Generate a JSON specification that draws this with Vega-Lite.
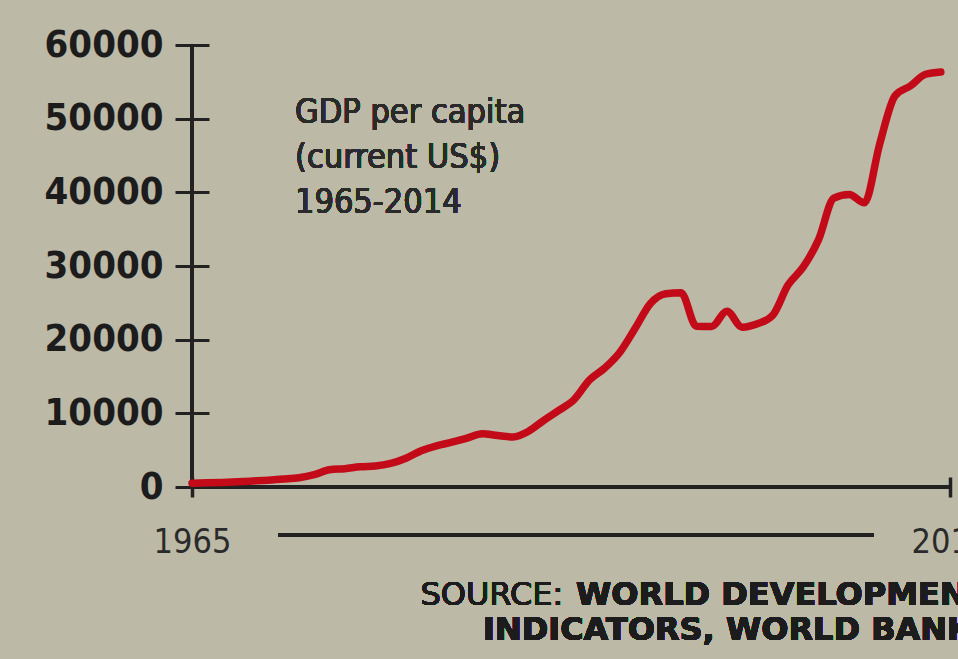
{
  "$schema": "https://vega.github.io/schema/vega-lite/v6.json",
  "autosize": {"type": "none"},
  "width": 758,
  "height": 442,
  "padding": {"left": 192, "top": 45, "right": 8, "bottom": 172},
  "background": "#bcb9a7",
  "config": {"view": {"stroke": null}},
  "data": {"values": [
    {"year": 1965, "gdp": 516}, {"year": 1966, "gdp": 566}, {"year": 1967, "gdp": 626},
    {"year": 1968, "gdp": 708}, {"year": 1969, "gdp": 813}, {"year": 1970, "gdp": 925},
    {"year": 1971, "gdp": 1071}, {"year": 1972, "gdp": 1264}, {"year": 1973, "gdp": 1685},
    {"year": 1974, "gdp": 2341}, {"year": 1975, "gdp": 2490}, {"year": 1976, "gdp": 2746},
    {"year": 1977, "gdp": 2846}, {"year": 1978, "gdp": 3194}, {"year": 1979, "gdp": 3900},
    {"year": 1980, "gdp": 4928}, {"year": 1981, "gdp": 5596}, {"year": 1982, "gdp": 6078},
    {"year": 1983, "gdp": 6633}, {"year": 1984, "gdp": 7234}, {"year": 1985, "gdp": 6987},
    {"year": 1986, "gdp": 6800}, {"year": 1987, "gdp": 7539}, {"year": 1988, "gdp": 9017},
    {"year": 1989, "gdp": 10394}, {"year": 1990, "gdp": 11862}, {"year": 1991, "gdp": 14502},
    {"year": 1992, "gdp": 16135}, {"year": 1993, "gdp": 18302}, {"year": 1994, "gdp": 21553},
    {"year": 1995, "gdp": 24915}, {"year": 1996, "gdp": 26233}, {"year": 1997, "gdp": 26376},
    {"year": 1998, "gdp": 21829}, {"year": 1999, "gdp": 21796}, {"year": 2000, "gdp": 23852},
    {"year": 2001, "gdp": 21700}, {"year": 2002, "gdp": 22160}, {"year": 2003, "gdp": 23320},
    {"year": 2004, "gdp": 27405}, {"year": 2005, "gdp": 29870}, {"year": 2006, "gdp": 33580},
    {"year": 2007, "gdp": 39224}, {"year": 2008, "gdp": 39722}, {"year": 2009, "gdp": 38577},
    {"year": 2010, "gdp": 46569}, {"year": 2011, "gdp": 53094}, {"year": 2012, "gdp": 54431},
    {"year": 2013, "gdp": 56029}, {"year": 2014, "gdp": 56336}
  ]},
  "encoding": {
    "x": {
      "field": "year", "type": "quantitative",
      "scale": {"domain": [1965, 2014.6], "nice": false, "zero": false},
      "axis": {
        "title": null, "values": [1965, 2014.6], "offset": -10, "tickSize": 20,
        "tickWidth": 3.5, "tickColor": "#222222", "domain": false, "grid": false,
        "labelExpr": "format(floor(datum.value), 'd')",
        "labelFont": "DejaVu Sans Condensed, sans-serif",
        "labelFontSize": 34, "labelColor": "#2a2a2a", "labelBaseline": "alphabetic",
        "labelPadding": 55, "labelFlush": false, "labelOverlap": false
      }
    },
    "y": {
      "field": "gdp", "type": "quantitative",
      "scale": {"domain": [0, 60000], "nice": false},
      "axis": {
        "title": null, "values": [0, 10000, 20000, 30000, 40000, 50000, 60000],
        "offset": -17, "tickSize": 34, "tickWidth": 3, "tickColor": "#222222",
        "domain": false, "grid": false, "format": "d",
        "labelFont": "DejaVu Sans Condensed, sans-serif",
        "labelFontWeight": "bold", "labelFontSize": 38, "labelColor": "#1c1c1c",
        "labelPadding": 12, "labelBaseline": "middle", "labelFlush": false, "labelOverlap": false
      }
    }
  },
  "layer": [
    {
      "mark": {"type": "rule", "color": "#222222", "strokeWidth": 4},
      "encoding": {"x": {"datum": 1965}, "y": {"datum": 60000}, "y2": {"datum": 0}}
    },
    {
      "mark": {"type": "rule", "color": "#222222", "strokeWidth": 4},
      "encoding": {"x": {"datum": 1965}, "x2": {"datum": 2014.6}, "y": {"datum": 0}}
    },
    {
      "mark": {"type": "line", "color": "#c20a18", "strokeWidth": 7.5, "strokeJoin": "round", "strokeCap": "round", "interpolate": "monotone"}
    },
    {
      "mark": {"type": "rule", "color": "#222222", "strokeWidth": 3.5},
      "encoding": {"x": {"datum": 1970.63}, "x2": {"datum": 2009.57}, "y": {"datum": -6516}}
    },
    {
      "mark": {"type": "text", "align": "left", "baseline": "alphabetic",
        "font": "DejaVu Sans Condensed, sans-serif", "fontSize": 34, "color": "#2a2a2a",
        "text": "GDP per capita"},
      "encoding": {"x": {"datum": 1971.74}, "y": {"datum": 49410}}
    },
    {
      "mark": {"type": "text", "align": "left", "baseline": "alphabetic",
        "font": "DejaVu Sans Condensed, sans-serif", "fontSize": 34, "color": "#2a2a2a",
        "text": "(current US$)"},
      "encoding": {"x": {"datum": 1971.74}, "y": {"datum": 43300}}
    },
    {
      "mark": {"type": "text", "align": "left", "baseline": "alphabetic",
        "font": "DejaVu Sans Condensed, sans-serif", "fontSize": 34, "color": "#2a2a2a",
        "text": "1965-2014"},
      "encoding": {"x": {"datum": 1971.74}, "y": {"datum": 37200}}
    },
    {
      "mark": {"type": "text", "align": "right", "baseline": "alphabetic",
        "font": "DejaVu Sans, Verdana, sans-serif", "fontSize": 32, "color": "#1c1c1c", "text": "SOURCE:"},
      "encoding": {"x": {"datum": 1989.3}, "y": {"datum": -16018}}
    },
    {
      "mark": {"type": "text", "align": "left", "baseline": "alphabetic",
        "font": "DejaVu Sans, Verdana, sans-serif", "fontSize": 32, "fontWeight": "bold", "color": "#1c1c1c", "text": "WORLD DEVELOPMENT"},
      "encoding": {"x": {"datum": 1990.13}, "y": {"datum": -16018}}
    },
    {
      "mark": {"type": "text", "align": "left", "baseline": "alphabetic",
        "font": "DejaVu Sans, Verdana, sans-serif", "fontSize": 32, "fontWeight": "bold", "color": "#1c1c1c", "text": "INDICATORS, WORLD BANK"},
      "encoding": {"x": {"datum": 1984.04}, "y": {"datum": -20769}}
    }
  ]
}
